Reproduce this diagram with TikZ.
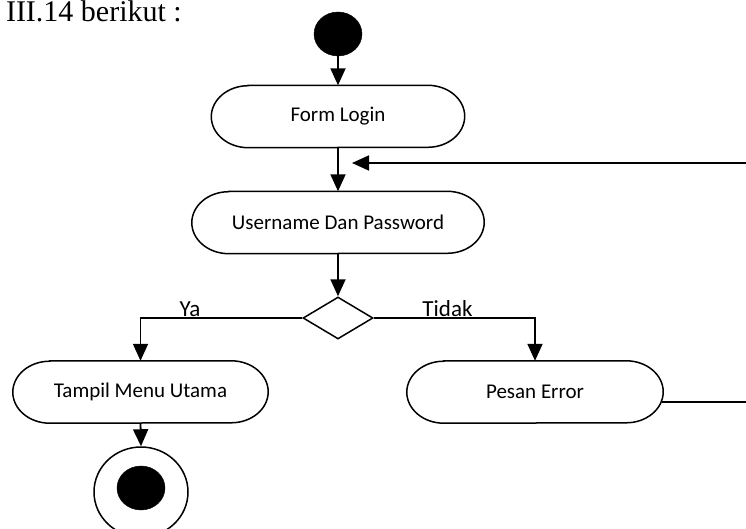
\documentclass[tikz,border=0pt]{standalone}
\usepackage{fontspec}
\setmainfont{Liberation Serif}
\newfontfamily\boxfont{Carlito}
\usetikzlibrary{arrows.meta,shapes.geometric}
\tikzset{
  flow/.style={line width=1.8pt, -{Triangle[length=17pt,width=15pt]}},
  plain/.style={line width=1.8pt},
  outline/.style={line width=1.5pt},
  activity/.style={minimum height=62pt, inner sep=0pt,
    font=\boxfont\fontsize{21}{25}\selectfont},
  choice/.style={draw, diamond, line width=1.5pt, inner sep=0pt, minimum width=70pt,
    minimum height=42pt, shape aspect=1.67},
  guard/.style={anchor=base, inner sep=0pt, font=\boxfont\fontsize{23}{27}\selectfont},
}
% capsule outline with half-elliptic ends around a named node
\newcommand\capsule[1]{%
  \draw[outline] ([xshift=37pt]#1.north west) -- ([xshift=-37pt]#1.north east)
    arc[start angle=90, end angle=-90, x radius=37pt, y radius=31pt]
    -- ([xshift=37pt]#1.south west)
    arc[start angle=270, end angle=90, x radius=37pt, y radius=31pt] -- cycle;}
\begin{document}
\begin{tikzpicture}[x=1pt,y=-1pt]
\useasboundingbox (0,0) rectangle (746,529);

% heading text above the diagram
\node[anchor=base east, inner sep=0pt, font=\fontsize{30}{34}\selectfont] (cap) at (182,22) {III.14 berikut :};

% initial node
\node[draw, fill=black, ellipse, minimum width=48pt, minimum height=44pt, inner sep=0pt] (start) at (338,34) {};

% activities
\node[activity, minimum width=253pt] (form) at (338,116.5) {Form Login};
\node[activity, minimum width=292pt] (user) at (338,222.5) {Username Dan Password};
\node[choice] (dia) at (338,318) {};
\node[activity, minimum width=255pt] (tampil) at (140.5,392) {Tampil Menu Utama};
\node[activity, minimum width=256pt] (pesan) at (535,392) {Pesan Error};
\capsule{form}
\capsule{user}
\capsule{tampil}
\capsule{pesan}

% final node
\node[draw, ellipse, line width=1.5pt, minimum width=94pt, minimum height=90pt, inner sep=0pt] (endo) at (141,492) {};
\node[draw, fill=black, ellipse, minimum width=48pt, minimum height=44pt, inner sep=0pt] (endi) at (141,488) {};

% loop-back ends at the right margin
\coordinate (backin) at (746,163);
\coordinate (backtip) at (352,163);
\coordinate (backout) at (746,402);

% connectors
\draw[flow] (start) -- (form.north);
\draw[flow] (form.south) -- (user.north);
\draw[flow] (backin) -- (backtip);
\draw[flow] (user.south) -- (dia.north);
\draw[flow] (dia.west) -| (tampil.north);
\draw[flow] (dia.east) -| (pesan.north);
\draw[flow] (tampil.south) -- (endo.north);
\draw[plain] ([yshift=-10pt,xshift=-1pt]pesan.east) -- (backout);

% guard labels
\node[guard] (ya) at (190,316) {Ya};
\node[guard] (tidak) at (447.5,316) {Tidak};
\end{tikzpicture}
\end{document}
